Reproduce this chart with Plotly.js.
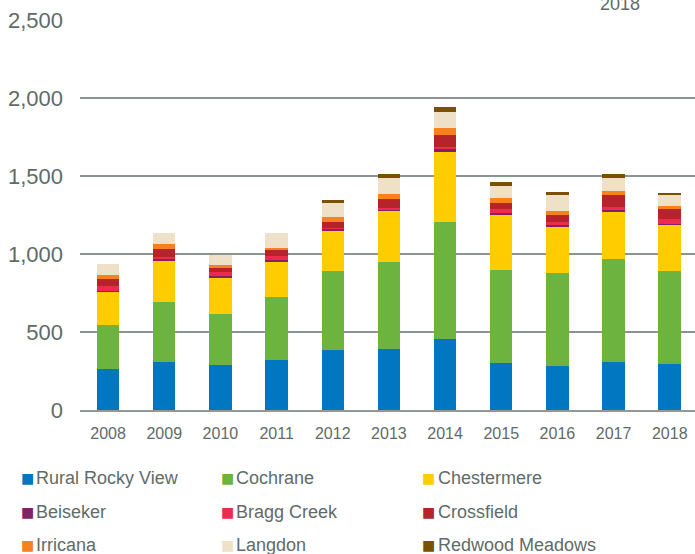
<!DOCTYPE html>
<html>
<head>
<meta charset="utf-8">
<script src="https://cdn.plot.ly/plotly-3.0.1.min.js"></script>
<style>
html,body{margin:0;padding:0;background:#fff;overflow:hidden;}
#chart{width:695px;height:554px;}
</style>
</head>
<body>
<div id="chart"></div>
<script>
var years = ['2008','2009','2010','2011','2012','2013','2014','2015','2016','2017','2018'];
var ruralRockyView = [263,305,290,318,382,393,452,299,284,307,292];
var cochrane       = [283,388,326,405,508,554,753,597,593,662,600];
var chestermere    = [211,263,231,224,256,329,446,357,295,301,292];
var beiseker       = [8,15,13,15,15,4,19,11,11,13,8];
var braggCreek     = [32,13,23,26,5,14,17,23,21,19,30];
var crossfield     = [40,49,28,38,38,60,73,43,49,77,66];
var irricana       = [28,30,17,15,32,30,47,30,23,23,19];
var langdon        = [70,70,68,92,94,105,105,75,100,85,70];
var redwoodMeadows = [0,0,0,0,19,23,32,28,23,23,11];

var seriesNames = ['Rural Rocky View','Cochrane','Chestermere','Beiseker','Bragg Creek','Crossfield','Irricana','Langdon','Redwood Meadows'];
var seriesValues = [ruralRockyView,cochrane,chestermere,beiseker,braggCreek,crossfield,irricana,langdon,redwoodMeadows];
var seriesColors = ['#0077c0','#6db33f','#ffcc00','#7f2268','#ee2a4f','#b5242b','#f5821f','#eee1c8','#7a5100'];
var topLabel = '2018';

var textColor = '#5f6b68';
var font = 'Liberation Sans, Arial, sans-serif';

var traces = seriesNames.map(function(n,i){
  return {type:'bar', name:n, x:years, y:seriesValues[i],
          marker:{color:seriesColors[i], line:{width:0}},
          showlegend:false, hoverinfo:'x+y+name'};
});

// legend as annotations, 3 columns x 3 rows
var textX = [-0.0740, 0.2512, 0.5789];
var markX = [-0.0855, 0.2397, 0.5666];
var rowY = [-0.1744, -0.2615, -0.3462];
var annotations = [];
seriesNames.forEach(function(n,i){
  var c = i % 3, r = Math.floor(i/3);
  annotations.push({xref:'paper', yref:'paper', x:markX[c], y:rowY[r], xanchor:'center', yanchor:'middle',
          showarrow:false, text:'■', font:{family:'DejaVu Sans', size:14, color:seriesColors[i]}});
  annotations.push({xref:'paper', yref:'paper', x:textX[c], y:rowY[r], xanchor:'left', yanchor:'middle',
          showarrow:false, align:'left', text:n,
          font:{family:font, size:18, color:textColor}});
});
annotations.push({xref:'paper', yref:'paper', x:0.878, y:1.042, xanchor:'center', yanchor:'middle',
  showarrow:false, text:topLabel, font:{family:font, size:18, color:textColor}});

var layout = {
  width:695, height:554,
  margin:{l:80, r:0, t:20, b:144, pad:0},
  paper_bgcolor:'#ffffff', plot_bgcolor:'#ffffff',
  barmode:'stack', bargap:0.6,
  showlegend:false,
  font:{family:font, color:textColor},
  xaxis:{type:'category', range:[-0.5,10.45], showgrid:false, zeroline:false,
         showline:true, linecolor:'#8f9a98', linewidth:2,
         ticks:'', tickfont:{size:16, color:textColor}, ticklabelstandoff:8},
  yaxis:{range:[0,2500], tickvals:[0,500,1000,1500,2000,2500], tickformat:',d',
         showgrid:true, gridcolor:'#8a9492', gridwidth:1.2, zeroline:false, showline:false,
         ticks:'', tickfont:{size:22, color:textColor}, ticklabelstandoff:16},
  annotations:annotations
};

Plotly.newPlot('chart', traces, layout, {displayModeBar:false, staticPlot:true});
</script>
</body>
</html>
